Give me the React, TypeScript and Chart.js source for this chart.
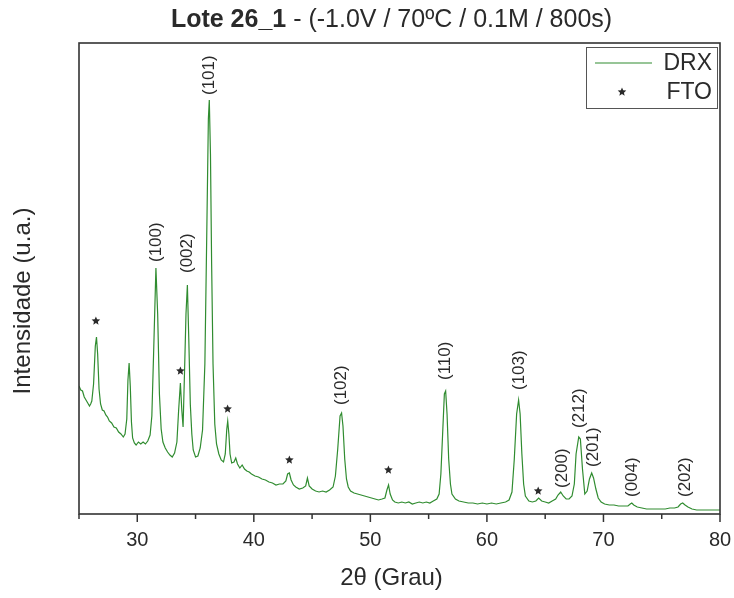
import React, { useEffect, useRef } from 'react';
import { Chart, registerables } from 'chart.js';

Chart.register(...registerables);

const twoTheta = [
  25.0, 25.15, 25.3, 25.45, 25.6, 25.75, 25.9, 26.0, 26.1, 26.25, 26.4, 26.5, 26.6, 26.72, 26.85, 27.0,
  27.15, 27.3, 27.45, 27.6, 27.8, 28.0, 28.2, 28.4, 28.6, 28.8, 28.95, 29.1, 29.2, 29.3, 29.4, 29.5,
  29.6, 29.75, 29.9, 30.1, 30.3, 30.5, 30.7, 30.9, 31.1, 31.25, 31.4, 31.6, 31.75, 31.9, 32.05, 32.2,
  32.4, 32.6, 32.8, 33.0, 33.2, 33.4, 33.55, 33.7, 33.82, 33.93, 34.05, 34.18, 34.3, 34.42, 34.55, 34.68,
  34.8, 35.0, 35.2, 35.4, 35.6, 35.8, 35.95, 36.1, 36.18, 36.28, 36.38, 36.5, 36.65, 36.8, 37.0, 37.2,
  37.4, 37.55, 37.68, 37.76, 37.86, 37.96, 38.1, 38.3, 38.45, 38.6, 38.8, 39.0, 39.2, 39.4, 39.6, 39.8,
  40.1, 40.4, 40.7, 41.0, 41.3, 41.6, 41.9, 42.2, 42.5, 42.75, 42.9, 43.05, 43.2, 43.4, 43.6, 43.9,
  44.2, 44.45, 44.6, 44.75, 45.0, 45.3, 45.6, 45.9, 46.2, 46.5, 46.8, 47.0, 47.2, 47.4, 47.53, 47.65,
  47.8, 47.95, 48.1, 48.3, 48.6, 48.9, 49.2, 49.5, 49.8, 50.1, 50.4, 50.7, 51.0, 51.25, 51.42, 51.56,
  51.7, 51.9, 52.1, 52.4, 52.7, 53.0, 53.3, 53.6, 53.9, 54.2, 54.5, 54.8, 55.1, 55.4, 55.7, 55.9,
  56.05, 56.2, 56.35, 56.46, 56.58, 56.72, 56.87, 57.0, 57.3, 57.6, 58.0, 58.4, 58.8, 59.2, 59.6, 60.0,
  60.4, 60.8, 61.2, 61.6, 61.9, 62.15, 62.35, 62.55, 62.72, 62.85, 63.0, 63.15, 63.3, 63.6, 63.9, 64.2,
  64.44, 64.7, 65.0, 65.3, 65.6, 65.9, 66.1, 66.33, 66.55, 66.8, 67.05, 67.3, 67.5, 67.65, 67.88, 68.02,
  68.2, 68.4, 68.6, 68.8, 68.99, 69.15, 69.35, 69.55, 69.8, 70.1, 70.5, 70.9, 71.3, 71.7, 72.1, 72.3,
  72.43, 72.6, 72.9, 73.3, 73.7, 74.1, 74.5, 74.9, 75.3, 75.7, 76.1, 76.4, 76.62, 76.8, 77.0, 77.25,
  77.6, 78.0, 78.4, 78.8, 79.2, 79.6, 80.0,
];
const intensity = [
  128, 124, 123, 117, 114, 111, 108, 110, 113, 130, 168, 177, 160, 125, 110, 104,
  103, 99, 97, 93, 91, 87, 86, 82, 80, 77, 80, 95, 134, 151, 128, 92,
  76, 71, 69, 72, 70, 72, 70, 73, 79, 98, 160, 246, 200, 120, 85, 72,
  66, 62, 59, 57, 61, 72, 104, 131, 104, 87, 140, 200, 229, 175, 110, 80,
  64, 57, 58, 66, 84, 150, 270, 395, 414, 360, 250, 150, 90, 70, 60, 54,
  52, 60, 85, 93, 80, 60, 51, 52, 56, 50, 46, 49, 45, 43, 42, 40,
  38, 37, 35, 34, 32, 31, 29, 30, 30, 33, 40, 41, 34, 29, 27, 25,
  26, 28, 36, 28, 25, 23, 22, 23, 22, 24, 27, 38, 65, 98, 101, 88,
  55, 35, 27, 23, 21, 20, 19, 18, 17, 16, 15, 14, 15, 16, 24, 29,
  20, 14, 12, 11, 12, 11, 12, 10, 11, 12, 11, 12, 11, 13, 15, 20,
  40, 80, 120, 123, 100, 55, 30, 20, 15, 13, 12, 11, 11, 10, 11, 10,
  11, 10, 11, 12, 14, 22, 55, 100, 114, 100, 60, 30, 18, 13, 12, 13,
  16, 13, 12, 11, 13, 15, 19, 22, 18, 15, 15, 18, 30, 60, 77, 75,
  45, 20, 23, 35, 41, 36, 25, 16, 12, 10, 9, 9, 8, 8, 8, 10,
  11, 9, 7, 6, 5, 5, 5, 5, 5, 6, 6, 7, 10, 11, 9, 7,
  5, 4, 4, 4, 4, 4, 4,
];

// FTO reflections (star markers)
const ftoX = [26.45, 33.7, 37.75, 43.05, 51.55, 64.4];
const ftoY = [193, 143, 105, 54, 44, 23];

// Miller index labels for the ZnO reflections
const hklLabels = ['(100)', '(002)', '(101)', '(102)', '(110)', '(103)', '(200)', '(212)', '(201)', '(004)', '(202)'];
const hklX = [31.65, 34.3, 36.2, 47.53, 56.46, 62.75, 66.45, 67.95, 69.15, 72.5, 77.05];
const hklY = [252, 241, 419, 109, 134, 124, 26, 86, 47, 17, 17];

const xTickValues = [25, 30, 35, 40, 45, 50, 55, 60, 65, 70, 75, 80];

const FONT = '"Liberation Sans", Arial, Helvetica, sans-serif';
const GREEN = 'rgb(48,140,48)';
const INK = '#2a2a2a';

function drawStar(ctx: CanvasRenderingContext2D, cx: number, cy: number, r: number) {
  const inner = r * 0.45;
  ctx.beginPath();
  for (let i = 0; i < 10; i++) {
    const rad = i % 2 === 0 ? r : inner;
    const a = -Math.PI / 2 + (i * Math.PI) / 5;
    const px = cx + rad * Math.cos(a);
    const py = cy + rad * Math.sin(a);
    if (i === 0) ctx.moveTo(px, py);
    else ctx.lineTo(px, py);
  }
  ctx.closePath();
  ctx.fill();
}

export default function App() {
  const ref = useRef<HTMLCanvasElement>(null);

  useEffect(() => {
    document.body.style.margin = '0';
    const canvas = ref.current;
    if (!canvas) return;

    const overlay = {
      id: 'overlay',
      afterDraw(chart: any) {
        const ctx: CanvasRenderingContext2D = chart.ctx;
        const area = chart.chartArea;
        const xs = chart.scales.x;
        const ys = chart.scales.y;
        ctx.save();

        // frame
        ctx.strokeStyle = '#333';
        ctx.lineWidth = 1.6;
        ctx.strokeRect(area.left, area.top, area.right - area.left, area.bottom - area.top);

        // x ticks
        ctx.lineWidth = 1.5;
        xTickValues.forEach((v) => {
          const px = xs.getPixelForValue(v);
          const len = v % 10 === 0 ? 8 : 5;
          ctx.beginPath();
          ctx.moveTo(px, area.bottom);
          ctx.lineTo(px, area.bottom + len);
          ctx.stroke();
        });

        const titleCenter = (area.left + area.right) / 2 - 8;

        // title
        ctx.fillStyle = INK;
        ctx.textBaseline = 'alphabetic';
        const boldPart = 'Lote 26_1';
        const restPart = ' - (-1.0V / 70ºC / 0.1M / 800s)';
        ctx.font = `bold 25px ${FONT}`;
        const w1 = ctx.measureText(boldPart).width;
        ctx.font = `25px ${FONT}`;
        const w2 = ctx.measureText(restPart).width;
        const tx = titleCenter - (w1 + w2) / 2;
        ctx.font = `bold 25px ${FONT}`;
        ctx.textAlign = 'left';
        ctx.fillText(boldPart, tx, 27);
        ctx.font = `25px ${FONT}`;
        ctx.fillText(restPart, tx + w1, 27);

        // axis titles
        ctx.font = `24px ${FONT}`;
        ctx.textAlign = 'center';
        ctx.textBaseline = 'middle';
        ctx.fillText('2θ (Grau)', titleCenter, 578);
        ctx.save();
        ctx.translate(23, 301);
        ctx.rotate(-Math.PI / 2);
        ctx.fillText('Intensidade (u.a.)', 0, 0);
        ctx.restore();

        // hkl labels
        ctx.font = `17px ${FONT}`;
        ctx.textAlign = 'left';
        ctx.textBaseline = 'middle';
        hklLabels.forEach((lab, i) => {
          const px = xs.getPixelForValue(hklX[i]);
          const py = ys.getPixelForValue(hklY[i]);
          ctx.save();
          ctx.translate(px, py);
          ctx.rotate(-Math.PI / 2);
          ctx.fillText(lab, 0, 0);
          ctx.restore();
        });

        // FTO stars from dataset 1 elements
        const meta = chart.getDatasetMeta(1);
        ctx.fillStyle = INK;
        meta.data.forEach((pt: any) => drawStar(ctx, pt.x, pt.y, 4.5));

        // legend
        ctx.strokeStyle = '#555';
        ctx.lineWidth = 1;
        ctx.strokeRect(586.5, 47.5, 131, 61);
        ctx.strokeStyle = GREEN;
        ctx.lineWidth = 1.2;
        ctx.beginPath();
        ctx.moveTo(595, 63);
        ctx.lineTo(652, 63);
        ctx.stroke();
        ctx.fillStyle = INK;
        ctx.font = `23px ${FONT}`;
        ctx.textAlign = 'right';
        ctx.textBaseline = 'middle';
        ctx.fillText(chart.data.datasets[0].label, 712, 64);
        ctx.fillText(chart.data.datasets[1].label, 712, 93);
        drawStar(ctx, 622, 92, 4.5);

        ctx.restore();
      },
    };

    const chart = new Chart(canvas, {
      type: 'line',
      data: {
        datasets: [
          {
            label: 'DRX',
            data: twoTheta.map((x, i) => ({ x, y: intensity[i] })),
            borderColor: GREEN,
            borderWidth: 1.2,
            pointRadius: 0,
            tension: 0,
            fill: false,
          },
          {
            label: 'FTO',
            data: ftoX.map((x, i) => ({ x, y: ftoY[i] })),
            showLine: false,
            pointRadius: 0,
            borderColor: INK,
            backgroundColor: INK,
          },
        ],
      },
      options: {
        animation: false,
        responsive: false,
        layout: { padding: { top: 43, left: 79, right: 14, bottom: 0 } },
        plugins: {
          legend: { display: false },
          tooltip: { enabled: false },
          title: { display: false },
        },
        scales: {
          x: {
            type: 'linear',
            min: 25,
            max: 80,
            afterFit: (s: any) => {
              s.height = 84;
              s.paddingLeft = 0;
              s.paddingRight = 0;
            },
            afterBuildTicks: (s: any) => {
              s.ticks = xTickValues.map((v) => ({ value: v }));
            },
            ticks: {
              autoSkip: false,
              maxRotation: 0,
              padding: 14,
              color: INK,
              font: { family: FONT, size: 20 },
              callback: (v: any) => (Number(v) % 10 === 0 && Number(v) !== 25 ? String(v) : ''),
            },
            grid: { display: false, drawTicks: false },
            border: { display: false },
          },
          y: { display: false, min: 0, max: 471 },
        },
      },
      plugins: [overlay],
    });

    return () => chart.destroy();
  }, []);

  return (
    <div style={{ width: 734, height: 598 }}>
      <canvas ref={ref} width={734} height={598} style={{ display: 'block' }} />
    </div>
  );
}
